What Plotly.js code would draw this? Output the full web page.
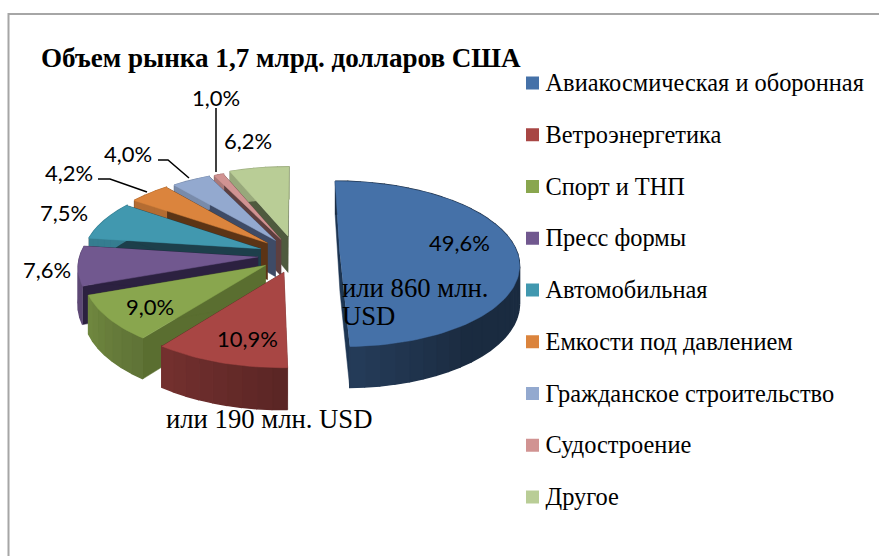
<!DOCTYPE html>
<html><head><meta charset="utf-8">
<script src="https://cdn.plot.ly/plotly-3.0.1.min.js"></script>
<style>html,body{margin:0;padding:0;background:#fff}#c{width:879px;height:556px}</style>
</head><body><div id="c"></div>
<script>
const categories = ["Авиакосмическая и оборонная","Ветроэнергетика","Спорт и ТНП","Пресс формы","Автомобильная","Емкости под давлением","Гражданское строительство","Судостроение","Другое"];
const shares = [49.6,10.9,9.0,7.6,7.5,4.2,4.0,1.0,6.2];
const colors = ["#4571A8","#A84644","#89A64E","#71588F","#4198AF","#DB843D","#93A9CF","#D19392","#B9CD96"];
const cutColors = ["#1D3552","#5A2424","#5A6E30","#2C2140","#1D3F4B","#5C3415","#3E4B66","#5E3F3F","#4F5A3E"];
const pull = [44,38,37,38,38,39,38,37,42];
const labelPos = [[459,242],[247,338],[150,306],[47,269],[64,212],[69,172],[128,153],[216,97],[248,140]];
const leaders = [{x:[216,216],y:[108,172]},{x:[158,168,189],y:[160,160,178]},{x:[98,110,147],y:[179,179,192]}];

// projection of the tilted pie
const G = {cx:296,cy:255,R:178,tilt:0.465,persp:0.11,depth:37};
function project(X,Y,down){
  const s = 1 + G.persp*Y/G.R;
  return [G.cx + X*s, G.cy + G.tilt*Y*s + (down?G.depth*s:0)];
}
function shade(hex,f){
  const n=parseInt(hex.slice(1),16);
  return "rgb("+[(n>>16)&255,(n>>8)&255,n&255].map(v=>Math.round(v*f)).join(",")+")";
}
const traces=[];
function poly(pts,color,lw){
  traces.push({type:"scatter",mode:"lines",x:pts.map(p=>p[0]),y:pts.map(p=>p[1]),fill:"toself",fillcolor:color,
    line:{width:lw,color:color},hoverinfo:"skip",showlegend:false});
}
const starts=[];let acc=0;
shares.forEach(v=>{starts.push(acc);acc+=v;});
const total=acc;
for(let i=shares.length-1;i>=0;i--){
  const a0=starts[i]/total*2*Math.PI, a1=(starts[i]+shares[i])/total*2*Math.PI, m=(a0+a1)/2;
  const ox=pull[i]*Math.sin(m), oy=-pull[i]*Math.cos(m);
  const rim=(t,d)=>project(ox+G.R*Math.sin(t),oy-G.R*Math.cos(t),d);
  const apex=d=>project(ox,oy,d);
  // radial cut faces
  poly([apex(false),rim(a0,false),rim(a0,true),apex(true)],cutColors[i],0.5);
  poly([apex(false),rim(a1,false),rim(a1,true),apex(true)],cutColors[i],0.5);
  // outer wall, banded for shading
  const n=Math.max(3,Math.round(shares[i]*0.8));
  for(let k=0;k<n;k++){
    const t0=a0+(a1-a0)*k/n,t1=a0+(a1-a0)*(k+1)/n,deg=(t0+t1)/2*180/Math.PI;
    const f=Math.max(0.38,Math.min(0.82,0.42+(deg-150)/100*0.4));
    const seg=[];
    for(let j=0;j<=4;j++)seg.push(rim(t0+(t1-t0)*j/4,false));
    for(let j=4;j>=0;j--)seg.push(rim(t0+(t1-t0)*j/4,true));
    poly(seg,shade(colors[i],f),1.5);
  }
  // top face
  const top=[apex(false)];
  const steps=Math.max(8,Math.round(shares[i]*2));
  for(let j=0;j<=steps;j++)top.push(rim(a0+(a1-a0)*j/steps,false));
  poly(top,colors[i],0.5);
}
leaders.forEach(l=>traces.push({type:"scatter",mode:"lines",x:l.x,y:l.y,line:{color:"#000",width:1.5},hoverinfo:"skip",showlegend:false}));
// legend column
const legendX=532.5,legendTextX=545.5,legendTop=83,legendTextTop=85,legendStep=51.75;
traces.push({type:"scatter",mode:"markers",
  x:categories.map(()=>legendX),
  y:categories.map((c,i)=>legendTop+i*legendStep),
  marker:{symbol:"square",size:13,color:colors,line:{width:0}},
  cliponaxis:false,hoverinfo:"skip",showlegend:false});
traces.push({type:"scatter",mode:"text",
  x:categories.map(()=>legendTextX),
  y:categories.map((c,i)=>legendTextTop+i*legendStep),
  text:categories,textposition:"middle right",
  textfont:{family:"Liberation Serif",size:24.4,color:"#000"},
  cliponaxis:false,hoverinfo:"skip",showlegend:false});

const serif="Liberation Serif", sans="Lato";
const annotations=shares.map((v,i)=>({x:labelPos[i][0],y:labelPos[i][1],xref:"x",yref:"y",showarrow:false,
  text:v.toFixed(1).replace(".",",")+"%",font:{family:sans,size:22,color:"#000"},xanchor:"center",yanchor:"middle"}));
[["или 860 млн.",342,288],["USD",342,316],["или 190 млн. USD",166,419]].forEach(a=>annotations.push(
  {x:a[1],y:a[2],xref:"x",yref:"y",showarrow:false,text:a[0],font:{family:serif,size:26.7,color:"#000"},xanchor:"left",yanchor:"middle",xshift:-2}));

const layout={width:879,height:556,margin:{l:0,r:0,t:0,b:0},paper_bgcolor:"#fff",plot_bgcolor:"#fff",showlegend:false,
  title:{text:"<b>Объем рынка 1,7 млрд. долларов США</b>",x:41/879,xanchor:"left",xref:"container",y:1-58/556,yanchor:"middle",yref:"container",
    font:{family:serif,size:27.1,color:"#000"},pad:{t:0,b:0,l:0,r:0}},
  xaxis:{range:[0,879],visible:false,fixedrange:true},
  yaxis:{range:[556,0],visible:false,fixedrange:true},
  annotations,
  shapes:[{type:"path",xref:"x",yref:"y",path:"M 8.5 560 L 8.5 14 L 885 14",line:{color:"#A6A6A6",width:2},layer:"below"}]
};
Plotly.newPlot("c",traces,layout,{displayModeBar:false,staticPlot:true});
</script></body></html>
